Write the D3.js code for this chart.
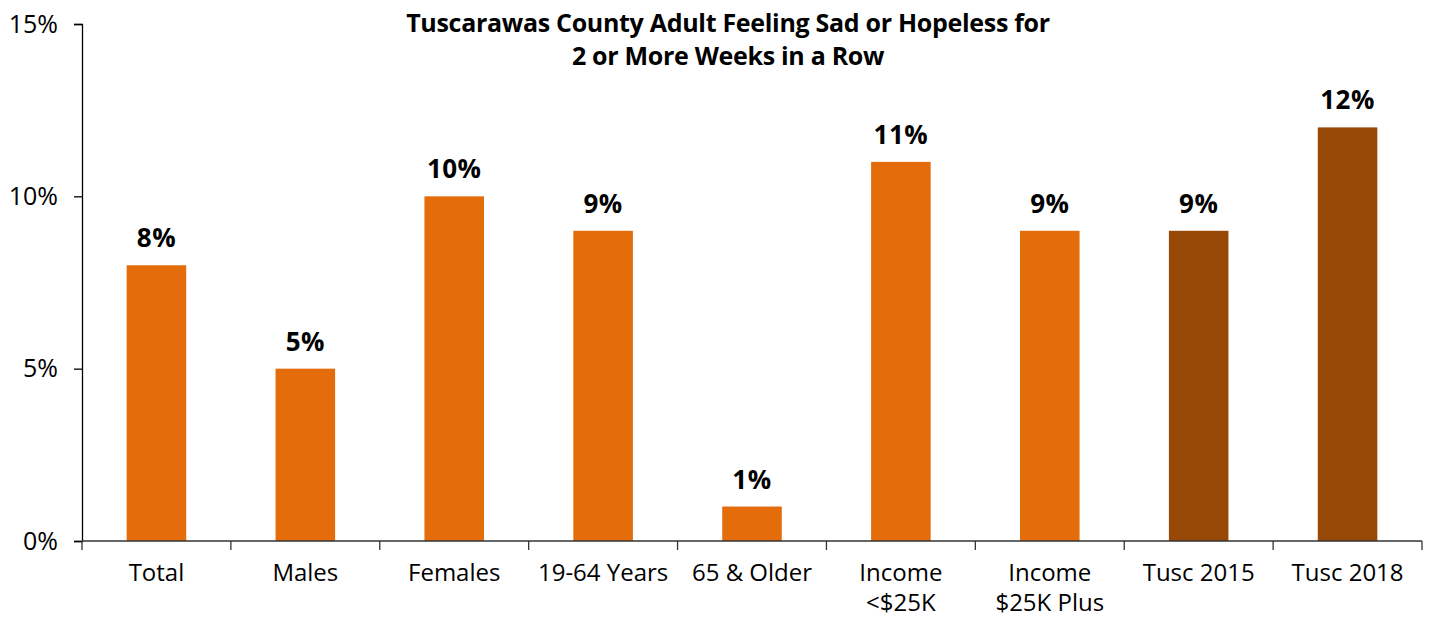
<!DOCTYPE html>
<html>
<head>
<meta charset="utf-8">
<script src="https://cdn.jsdelivr.net/npm/d3@7"></script>
<style>
  body { margin: 0; background: #fff; }
  svg text { font-family: "Open Sans", "Noto Sans", sans-serif; fill: #000; }
</style>
</head>
<body>
<script>
// chart data
var categories = ["Total", "Males", "Females", "19-64 Years", "65 & Older", "Income\n<$25K", "Income\n$25K Plus", "Tusc 2015", "Tusc 2018"];
var values = [8, 5, 10, 9, 1, 11, 9, 9, 12];
var barColors = ["#E46C0A", "#E46C0A", "#E46C0A", "#E46C0A", "#E46C0A", "#E46C0A", "#E46C0A", "#984807", "#984807"];
var yTicks = [0, 5, 10, 15];
var titleLines = ["Tuscarawas County Adult Feeling Sad or Hopeless for", "2 or More Weeks in a Row"];

var margin = {top: 24, right: 11, bottom: 76, left: 82},
    width = 1433 - margin.left - margin.right,
    height = 617 - margin.top - margin.bottom;

var svg = d3.select("body").append("svg")
    .attr("width", 1433)
    .attr("height", 617);

var g = svg.append("g")
    .attr("transform", "translate(" + margin.left + "," + margin.top + ")");

var x = d3.scaleBand()
    .domain(categories)
    .range([0, width])
    .paddingInner(0.6)
    .paddingOuter(0.3);

var y = d3.scaleLinear()
    .domain([0, 15])
    .range([height, 0]);

// bars
g.selectAll(".bar")
    .data(values)
  .enter().append("rect")
    .attr("class", "bar")
    .attr("x", function(d, i) { return x(categories[i]); })
    .attr("width", x.bandwidth())
    .attr("y", function(d) { return y(d); })
    .attr("height", function(d) { return height - y(d); })
    .attr("fill", function(d, i) { return barColors[i]; });

// value labels
g.selectAll(".val")
    .data(values)
  .enter().append("text")
    .attr("class", "val")
    .attr("x", function(d, i) { return x(categories[i]) + x.bandwidth() / 2; })
    .attr("y", function(d) { return y(d) - 18; })
    .attr("text-anchor", "middle")
    .style("font-size", "26px")
    .style("font-weight", "bold")
    .style("letter-spacing", "0.5px")
    .text(function(d) { return d + "%"; });

// y axis
var yAxis = g.append("g")
    .call(d3.axisLeft(y).tickValues(yTicks).tickSize(8).tickPadding(16)
      .tickFormat(function(d) { return d + "%"; }));
yAxis.select(".domain").attr("stroke", "#000").attr("stroke-width", 1.3);
yAxis.selectAll(".tick line").attr("stroke", "#000").attr("stroke-width", 1.3);
yAxis.selectAll("text").style("font-size", "25px");

// x axis, ticks at the band boundaries
var xAxisG = g.append("g")
    .attr("transform", "translate(0," + height + ")");
xAxisG.append("line")
    .attr("x1", 0).attr("x2", width)
    .attr("stroke", "#333").attr("stroke-width", 1.3);
var step = x.step();
var bounds = d3.range(categories.length + 1).map(function(i) { return i * step; });
xAxisG.selectAll(".xt")
    .data(bounds)
  .enter().append("line")
    .attr("x1", function(d) { return d; })
    .attr("x2", function(d) { return d; })
    .attr("y1", 0).attr("y2", 9)
    .attr("stroke", "#333").attr("stroke-width", 1.3);

var xl = xAxisG.selectAll(".xl")
    .data(categories)
  .enter().append("text")
    .attr("class", "xl")
    .attr("text-anchor", "middle")
    .attr("transform", function(d) { return "translate(" + (x(d) + x.bandwidth() / 2) + ",40)"; })
    .style("font-size", "24px");
xl.each(function(d) {
  var parts = d.split("\n");
  var t = d3.select(this);
  parts.forEach(function(p, j) {
    t.append("tspan").attr("x", 0).attr("y", j * 30).text(p);
  });
});

// title
svg.append("text")
    .attr("x", 728)
    .attr("y", 32)
    .attr("text-anchor", "middle")
    .style("font-size", "25px")
    .style("font-weight", "bold")
    .style("letter-spacing", "-0.3px")
  .selectAll("tspan")
    .data(titleLines)
  .enter().append("tspan")
    .attr("x", 728)
    .attr("dy", function(d, i) { return i === 0 ? 0 : 33; })
    .text(function(d) { return d; });
</script>
</body>
</html>
